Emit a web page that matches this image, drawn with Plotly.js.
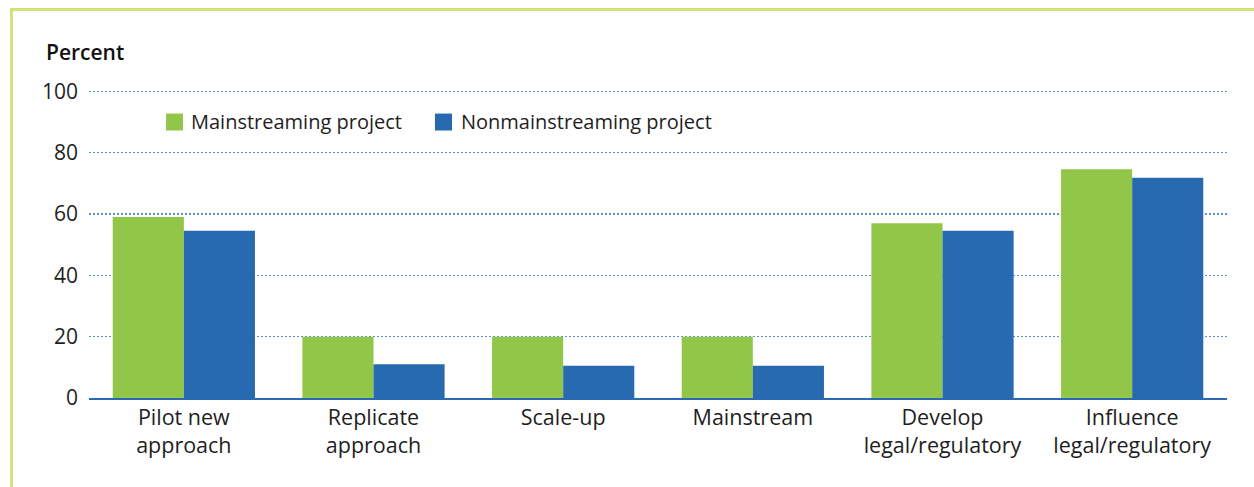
<!DOCTYPE html>
<html>
<head>
<meta charset="utf-8">
<script src="https://cdn.plot.ly/plotly-3.0.1.min.js"></script>
<style>
html,body{margin:0;padding:0;background:#fff;}
#chart{position:absolute;left:0;top:0;width:1254px;height:487px;}
</style>
</head>
<body>
<div id="chart"></div>
<script>
const categories = ["Pilot new<br>approach", "Replicate<br>approach", "Scale-up", "Mainstream", "Develop<br>legal/regulatory", "Influence<br>legal/regulatory"];
const mainstreaming = [59, 20, 20, 20, 57, 74.6];
const nonmainstreaming = [54.5, 11, 10.5, 10.5, 54.5, 71.8];
const seriesNames = ["Mainstreaming project", "Nonmainstreaming project"];
const seriesColors = ["#92c648", "#276ab0"];
const yTicks = [0, 20, 40, 60, 80, 100];
const yAxisLabel = "Percent";

const FONT = "Open Sans, sans-serif";
const TXT = "#1e1e1e";

const data = [
  {type: "bar", name: seriesNames[0], x: categories, y: mainstreaming, marker: {color: seriesColors[0]}, hoverinfo: "none"},
  {type: "bar", name: seriesNames[1], x: categories, y: nonmainstreaming, marker: {color: seriesColors[1]}, hoverinfo: "none"}
];

// legend drawn as swatches + labels (positions in plot-domain fractions)
const legendPos = [
  {sx0: 0.0677, sx1: 0.0826, tx: 0.0880},
  {sx0: 0.3040, sx1: 0.3190, tx: 0.3252}
];
const shapes = [];
const annotations = [
  {text: yAxisLabel, xref: "paper", yref: "paper", x: -0.0395, y: 1.124, xanchor: "left", yanchor: "middle",
   showarrow: false, font: {family: FONT, size: 21, color: "#111111", weight: 600}}
];
seriesNames.forEach(function(name, i){
  const p = legendPos[i];
  shapes.push({type: "rect", xref: "paper", yref: "paper", x0: p.sx0, x1: p.sx1, y0: 0.8685, y1: 0.9235,
               fillcolor: seriesColors[i], line: {width: 0}});
  annotations.push({text: name, xref: "paper", yref: "paper", x: p.tx, y: 0.897, xanchor: "left", yanchor: "middle",
                    showarrow: false, font: {family: FONT, size: 20, color: TXT}});
});

const layout = {
  width: 1254, height: 487,
  margin: {l: 89, r: 27, t: 90, b: 89},
  paper_bgcolor: "#ffffff", plot_bgcolor: "#ffffff",
  font: {family: FONT, size: 20, color: TXT},
  barmode: "group", bargap: 0.25, bargroupgap: 0,
  showlegend: false,
  xaxis: {showgrid: false, showline: true, linecolor: "#2a6ab5", linewidth: 1.5,
          ticks: "", tickfont: {family: FONT, size: 21.5, color: TXT}, fixedrange: true},
  yaxis: {range: [0, 100.4], tickvals: yTicks, ticktext: yTicks.map(String), showgrid: true,
          gridcolor: "#5a90d0", griddash: "2px,2px", gridwidth: 1.2, zeroline: false, showline: false,
          ticks: "", ticklabelstandoff: 10, tickfont: {family: FONT, size: 21, color: TXT}, fixedrange: true},
  annotations: annotations,
  shapes: shapes
};

Plotly.newPlot("chart", data, layout, {displayModeBar: false, staticPlot: true}).then(function(){
  // decorative frame (top and left rules) as in the source figure
  const svg = document.querySelector("#chart .main-svg");
  const ns = "http://www.w3.org/2000/svg";
  const g = document.createElementNS(ns, "g");
  const l1 = document.createElementNS(ns, "line");
  l1.setAttribute("x1", 10); l1.setAttribute("x2", 1254); l1.setAttribute("y1", 9.5); l1.setAttribute("y2", 9.5);
  l1.setAttribute("stroke", "#d3e27b"); l1.setAttribute("stroke-width", 3);
  const l2 = document.createElementNS(ns, "line");
  l2.setAttribute("x1", 11.5); l2.setAttribute("x2", 11.5); l2.setAttribute("y1", 8); l2.setAttribute("y2", 487);
  l2.setAttribute("stroke", "#d3e27b"); l2.setAttribute("stroke-width", 3);
  g.appendChild(l1); g.appendChild(l2);
  svg.appendChild(g);
});
</script>
</body>
</html>
